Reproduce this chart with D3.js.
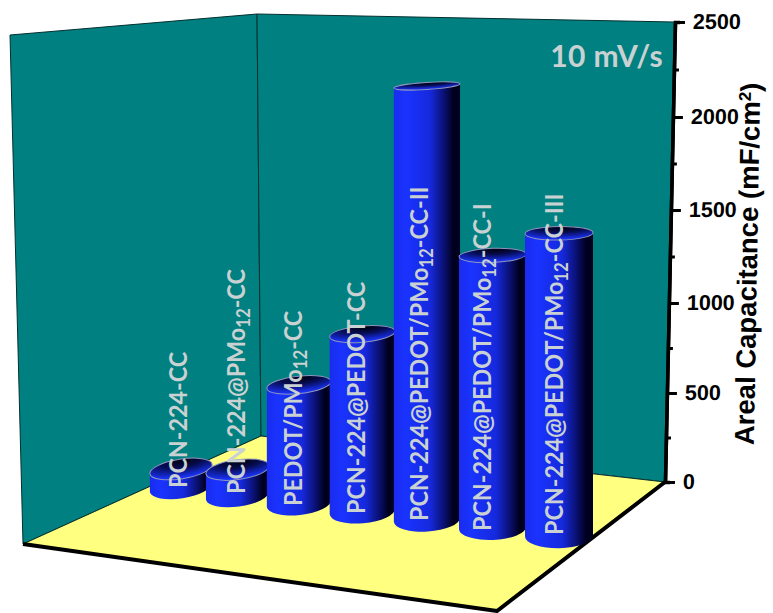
<!DOCTYPE html>
<html>
<head>
<meta charset="utf-8">
<script src="https://cdn.jsdelivr.net/npm/d3@7"></script>
<style>
body { margin: 0; background: #fff; }
.tick text { font-family: "Liberation Sans", Arial, sans-serif; font-weight: bold; font-size: 21.5px; fill: #000; }
.barLabel, .rate { font-family: Lato, sans-serif; font-weight: bold; fill: #c9d1d2; }
.yTitle { font-family: "Liberation Sans", Arial, sans-serif; font-weight: bold; font-size: 27.5px; }
</style>
</head>
<body>
<div id="chart"></div>
<script>
var categories = ["PCN-224-CC", "PCN-224@PMo12-CC", "PEDOT/PMo12-CC", "PCN-224@PEDOT-CC",
    "PCN-224@PEDOT/PMo12-CC-II", "PCN-224@PEDOT/PMo12-CC-I", "PCN-224@PEDOT/PMo12-CC-III"];
var capacitance = [96, 135, 622, 925, 2245, 1400, 1545];
var majorTicks = [0, 500, 1000, 1500, 2000, 2500];
var minorTicks = [250, 750, 1250, 1750, 2250];
var rateLabel = "10 mV/s";

var width = 773, height = 613;

var svg = d3.select("#chart").append("svg")
    .attr("width", width)
    .attr("height", height);

var defs = svg.append("defs");

var bodyGrad = defs.append("linearGradient").attr("id", "bodyGrad");
[[0, "#1a2cee"], [0.18, "#1a33ff"], [0.55, "#1529dc"], [0.76, "#0a1070"], [0.9, "#00001e"], [1, "#000020"]].forEach(function (s) {
    bodyGrad.append("stop").attr("offset", s[0]).attr("stop-color", s[1]);
});
var topGrad = defs.append("radialGradient").attr("id", "topGrad")
    .attr("cx", 0.55).attr("cy", 0.1).attr("r", 0.85);
[[0, "#000010"], [0.4, "#060c50"], [1, "#1a33ff"]].forEach(function (s) {
    topGrad.append("stop").attr("offset", s[0]).attr("stop-color", s[1]);
});

// room
function poly(points, fill) {
    svg.append("polygon")
        .attr("points", points.join(" "))
        .attr("fill", fill)
        .attr("stroke", "#063030")
        .attr("stroke-width", 1);
}
poly([[10, 35], [257, 14], [261, 436], [23, 544]], "#008080");
poly([[257, 14], [675, 22], [665, 482], [261, 436]], "#008080");
poly([[23, 544], [261, 436], [665, 482], [497, 611]], "#ffff80");

svg.append("path")
    .attr("d", "M23,544L497,611L665,482")
    .attr("fill", "none")
    .attr("stroke", "#000")
    .attr("stroke-width", 4);

// scales, the axis is a bit uneven because of the perspective
var y = d3.scaleLinear().domain(majorTicks).range([482, 393, 303, 210, 117, 22]);
var barHeight = d3.scaleLinear().domain([0, 2500]).range([0, 460]);
var index = d3.scalePoint().domain(categories).range([0, 6]);
var rowX = d3.scalePow().exponent(1.06).domain([0, 6]).range([181, 559]);
var rowY = d3.scaleLinear().domain([0, 6]).range([487, 536]);
var radius = d3.scaleLinear().domain([0, 6]).range([31.5, 34]);
var depth = d3.scaleLinear().domain([0, 6]).range([1.02, 1.065]);
var topTilt = d3.scaleLinear().domain([0, 3, 6]).range([-9, -5, -1]);
var flatness = d3.scaleLinear().domain([87, 233, 468]).range([0.105, 0.2, 0.31]);

var bars = categories.map(function (c, i) {
    var cx = rowX(index(c));
    var base = rowY(index(c));
    var rx = radius(index(c));
    var top = base - barHeight(capacitance[i]) * depth(index(c));
    return { name: c, cx: cx, base: base, top: top, rx: rx, ry: rx * flatness(top), baseRy: rx * 0.36, tilt: topTilt(index(c)) };
});

// end points of a tilted ellipse
function ends(cx, cy, rx, tilt) {
    var t = tilt * Math.PI / 180;
    return { lx: cx - rx * Math.cos(t), ly: cy - rx * Math.sin(t), rx: cx + rx * Math.cos(t), ry: cy + rx * Math.sin(t) };
}

var bar = svg.selectAll(".bar")
    .data(bars)
    .enter().append("g")
    .attr("class", "bar");

bar.append("path")
    .attr("fill", "url(#bodyGrad)")
    .attr("d", function (d) {
        var a = ends(d.cx, d.top, d.rx, d.tilt), b = ends(d.cx, d.base, d.rx, d.tilt);
        return "M" + a.lx + "," + a.ly + "L" + b.lx + "," + b.ly +
            "A" + d.rx + "," + d.baseRy + " " + d.tilt + " 0 0 " + b.rx + "," + b.ry +
            "L" + a.rx + "," + a.ry +
            "A" + d.rx + "," + d.ry + " " + d.tilt + " 0 0 " + a.lx + "," + a.ly + "Z";
    });

bar.append("ellipse")
    .attr("rx", function (d) { return d.rx; })
    .attr("ry", function (d) { return d.ry; })
    .attr("transform", function (d) { return "translate(" + d.cx + "," + d.top + ") rotate(" + d.tilt + ")"; })
    .attr("fill", "url(#topGrad)")
    .attr("stroke", "#8f96b8")
    .attr("stroke-width", 1);

// bar labels, set as subscript where the name has the 12
var labelX = [187, 245, 302, 365, 428, 491, 563];
var labelY = [488, 494, 506, 514, 521, 531, 535];

var label = svg.selectAll(".barLabel")
    .data(categories)
    .enter().append("text")
    .attr("class", "barLabel")
    .attr("font-size", 25)
    .attr("transform", function (d, i) { return "translate(" + labelX[i] + "," + labelY[i] + ") rotate(-90) scale(0.933,1)"; });

label.each(function (d) {
    var t = d3.select(this);
    var parts = d.split("12");
    t.append("tspan").text(parts[0]);
    if (parts.length > 1) {
        t.append("tspan").attr("font-size", 18).attr("dy", 5).text("12");
        t.append("tspan").attr("dy", -5).text(parts[1]);
    }
});

svg.append("text")
    .attr("class", "rate")
    .attr("x", 663)
    .attr("y", 67)
    .attr("text-anchor", "end")
    .attr("font-size", 30)
    .attr("letter-spacing", 0.4)
    .text(rateLabel);

// the value axis leans a little, like the room edge
var lean = -10 / 460;
var axisG = svg.append("g")
    .attr("transform", "matrix(1,0," + lean + ",1," + (675 - lean * 22) + ",0)");

var minorAxis = d3.axisRight(y).tickValues(minorTicks).tickSize(5).tickFormat("");
var majorAxis = d3.axisRight(y).tickValues(majorTicks).tickSize(10).tickPadding(8).tickSizeOuter(0).tickFormat(d3.format("d"));

axisG.append("g").call(minorAxis);
axisG.append("g").call(majorAxis);
axisG.selectAll(".tick line").attr("stroke", "#000").attr("stroke-width", 3);
axisG.selectAll(".domain").attr("stroke", "#000").attr("stroke-width", 3.5);

var title = svg.append("text")
    .attr("class", "yTitle")
    .attr("text-anchor", "middle")
    .attr("transform", "translate(757,264) rotate(-89)");
title.append("tspan").text("Areal Capacitance (mF/cm");
title.append("tspan").attr("font-size", 17).attr("dy", -9).text("2");
title.append("tspan").attr("dy", 9).text(")");
</script>
</body>
</html>
